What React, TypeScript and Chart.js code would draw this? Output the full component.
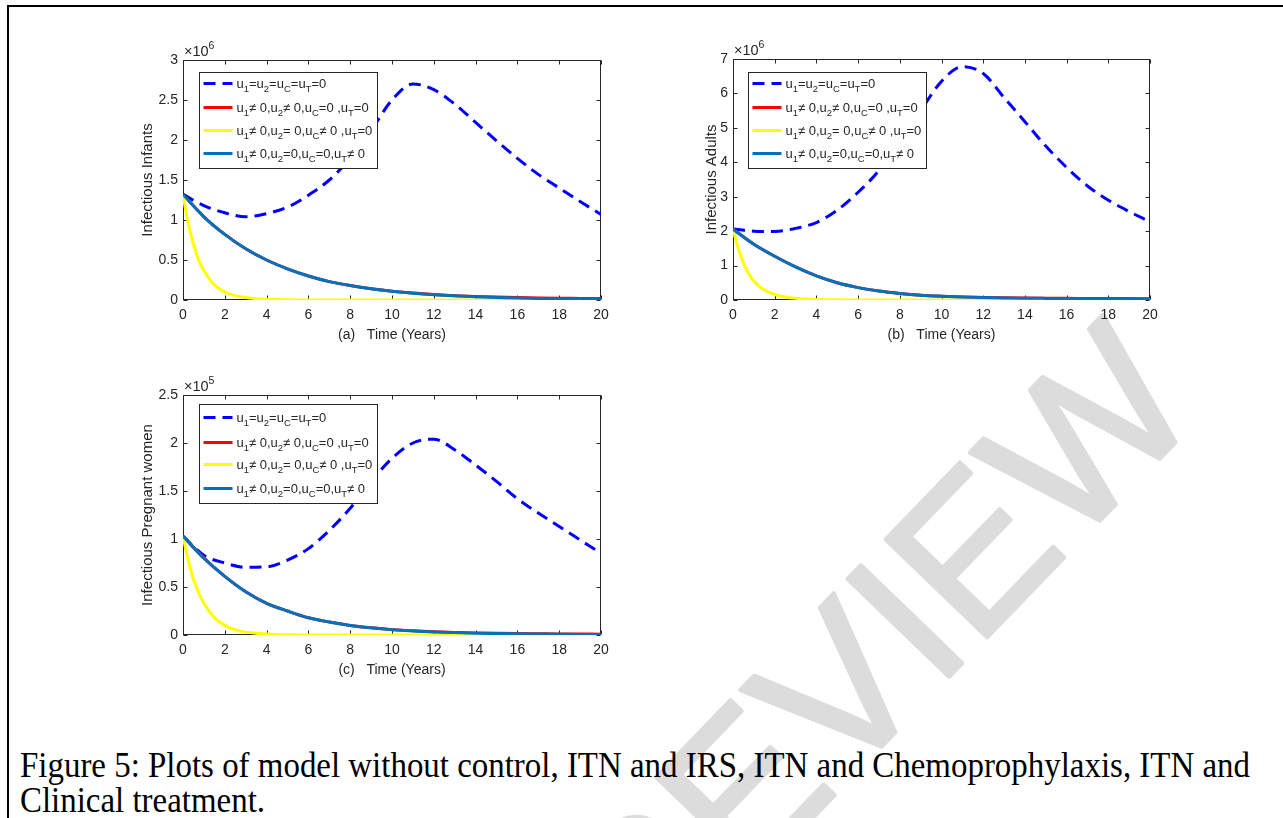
import React, { useEffect, useRef, useMemo } from "react";
import { Chart, registerables } from "chart.js";

Chart.register(...registerables);

// ---------------- data ----------------
const years = [0, 1, 2, 3, 4, 5, 6, 7, 8, 9, 10, 11, 12, 13, 14, 15, 16, 17, 18, 19, 20];
const fastYears = [0, 0.25, 0.5, 0.75, 1, 1.5, 2, 2.5, 3, 3.5, 4, 5, 6, 8, 10, 12, 14, 16, 18, 20];

// (a) Infectious Infants, x10^6
const infantsNoControl = [1.32, 1.18, 1.09, 1.04, 1.08, 1.16, 1.31, 1.5, 1.77, 2.12, 2.5, 2.7, 2.63, 2.45, 2.22, 1.99, 1.77, 1.57, 1.4, 1.23, 1.07];
const infantsItnIrs = [1.32, 1.04, 0.82, 0.64, 0.5, 0.39, 0.3, 0.23, 0.18, 0.14, 0.11, 0.086, 0.068, 0.054, 0.044, 0.036, 0.03, 0.025, 0.022, 0.02, 0.018];
const infantsItnChemo = [1.31, 0.96, 0.7, 0.5, 0.37, 0.19, 0.1, 0.055, 0.03, 0.017, 0.01, 0.003, 0.001, 0, 0, 0, 0, 0, 0, 0];
const infantsItnTreat = [1.32, 1.04, 0.82, 0.64, 0.5, 0.39, 0.3, 0.23, 0.18, 0.14, 0.11, 0.085, 0.066, 0.052, 0.041, 0.032, 0.025, 0.02, 0.016, 0.013, 0.011];

// (b) Infectious Adults, x10^6
const adultsNoControl = [2.06, 2.0, 1.99, 2.08, 2.25, 2.61, 3.13, 3.76, 4.6, 5.5, 6.35, 6.78, 6.58, 5.88, 5.18, 4.47, 3.85, 3.31, 2.9, 2.57, 2.27];
const adultsItnIrs = [2.06, 1.62, 1.27, 0.96, 0.7, 0.5, 0.36, 0.26, 0.19, 0.14, 0.11, 0.09, 0.075, 0.065, 0.058, 0.052, 0.048, 0.045, 0.042, 0.04, 0.038];
const adultsItnChemo = [2.06, 1.5, 1.08, 0.77, 0.55, 0.29, 0.16, 0.09, 0.05, 0.028, 0.016, 0.006, 0.002, 0.001, 0, 0, 0, 0, 0, 0];
const adultsItnTreat = [2.06, 1.62, 1.27, 0.96, 0.7, 0.5, 0.36, 0.26, 0.19, 0.14, 0.11, 0.088, 0.072, 0.061, 0.053, 0.047, 0.042, 0.038, 0.035, 0.033, 0.031];

// (c) Infectious Pregnant women, x10^5
const pregnantNoControl = [1.03, 0.83, 0.75, 0.705, 0.71, 0.78, 0.9, 1.09, 1.32, 1.6, 1.84, 2.0, 2.04, 1.93, 1.77, 1.6, 1.42, 1.27, 1.13, 0.99, 0.85];
const pregnantItnIrs = [1.03, 0.8, 0.61, 0.45, 0.33, 0.25, 0.18, 0.135, 0.1, 0.075, 0.056, 0.043, 0.034, 0.027, 0.022, 0.018, 0.015, 0.013, 0.011, 0.01, 0.009];
const pregnantItnChemo = [1.03, 0.78, 0.58, 0.44, 0.33, 0.18, 0.1, 0.055, 0.03, 0.017, 0.01, 0.003, 0.001, 0, 0, 0, 0, 0, 0, 0];
const pregnantItnTreat = [1.03, 0.8, 0.61, 0.45, 0.33, 0.25, 0.18, 0.135, 0.1, 0.075, 0.055, 0.042, 0.032, 0.025, 0.019, 0.015, 0.012, 0.01, 0.008, 0.006, 0.005];

const legendLabels = [
  "u_1=u_2=u_C=u_T=0",
  "u_1≠ 0,u_2≠ 0,u_C=0 ,u_T=0",
  "u_1≠ 0,u_2= 0,u_C≠ 0 ,u_T=0",
  "u_1≠ 0,u_2=0,u_C=0,u_T≠ 0",
];
const xTicksStep = 2;
const captionLine1 = "Figure 5: Plots of model without control, ITN and IRS, ITN and Chemoprophylaxis, ITN and";
const captionLine2 = "Clinical treatment.";
const watermarkText = "PEER REVIEW";

// ---------------- styles ----------------
const FONT = "'Liberation Sans', Arial, Helvetica, sans-serif";
const SERIF = "'Liberation Serif', 'Times New Roman', serif";
const AX = "#262626";
const seriesStyles = [
  { color: "#0000FF", dash: [12, 7], width: 3, order: 3 },
  { color: "#FF0000", dash: [], width: 3, order: 2 },
  { color: "#FFFF00", dash: [], width: 3, order: 1 },
  { color: "#0072BD", dash: [], width: 3, order: 0 },
];

type PanelProps = {
  plot: { left: number; top: number; right: number; bottom: number };
  yMax: number;
  yStep: number;
  exponent: string;
  yTitle: string;
  xTitle: string;
  yTitleGap: number;
  xs: number[][];
  ys: number[][];
  legendAt: { dx: number; dy: number; w: number; h: number; rows: number[] };
};

function drawRich(ctx: CanvasRenderingContext2D, text: string, x: number, y: number) {
  let cx = x;
  let run = "";
  const flush = () => {
    if (!run) return;
    ctx.font = `13px ${FONT}`;
    ctx.fillText(run, cx, y);
    cx += ctx.measureText(run).width;
    run = "";
  };
  for (let i = 0; i < text.length; i++) {
    const ch = text[i];
    if (ch === "_" && i + 1 < text.length) {
      flush();
      const s = text[i + 1];
      ctx.font = `9.5px ${FONT}`;
      ctx.fillText(s, cx, y + 3.5);
      cx += ctx.measureText(s).width;
      i++;
    } else {
      run += ch;
    }
  }
  flush();
}

function Panel(props: PanelProps) {
  const ref = useRef<HTMLCanvasElement | null>(null);
  const { plot } = props;
  const padL = 63, padT = 20, padR = 19, padB = 50;
  const w = plot.right - plot.left + padL + padR;
  const h = plot.bottom - plot.top + padT + padB;

  useEffect(() => {
    if (!ref.current) return;
    const axesPlugin = {
      id: "matlabAxes",
      beforeDraw(chart: any) {
        const { ctx, chartArea: a } = chart;
        ctx.save();
        ctx.fillStyle = "#ffffff";
        ctx.fillRect(a.left, a.top, a.right - a.left, a.bottom - a.top);
        ctx.restore();
      },
      beforeDatasetsDraw(chart: any) {
        const { ctx, chartArea: a, scales } = chart;
        const L = Math.round(a.left) + 0.5, R = Math.round(a.right) - 0.5;
        const T = Math.round(a.top) + 0.5, B = Math.round(a.bottom) - 0.5;
        ctx.save();
        ctx.strokeStyle = AX;
        ctx.lineWidth = 1;
        ctx.strokeRect(L, T, R - L, B - T);
        ctx.beginPath();
        const tl = 4;
        scales.x.ticks.forEach((t: any) => {
          const px = Math.round(scales.x.getPixelForValue(t.value)) + 0.5;
          ctx.moveTo(px, B); ctx.lineTo(px, B - tl);
          ctx.moveTo(px, T); ctx.lineTo(px, T + tl);
        });
        scales.y.ticks.forEach((t: any) => {
          const py = Math.round(scales.y.getPixelForValue(t.value)) + 0.5;
          ctx.moveTo(L, py); ctx.lineTo(L + tl, py);
          ctx.moveTo(R, py); ctx.lineTo(R - tl, py);
        });
        ctx.stroke();
        ctx.restore();
      },
      afterDatasetsDraw(chart: any) {
        const { ctx, chartArea: a } = chart;
        const lg = props.legendAt;
        ctx.save();
        const bx = Math.round(a.left + lg.dx) + 0.5, by = Math.round(a.top + lg.dy) + 0.5;
        ctx.fillStyle = "#ffffff";
        ctx.fillRect(bx, by, lg.w, lg.h);
        ctx.strokeStyle = AX;
        ctx.lineWidth = 1;
        ctx.strokeRect(bx, by, lg.w, lg.h);
        legendLabels.forEach((label, i) => {
          const st = seriesStyles[i];
          const ly = by + lg.rows[i];
          ctx.beginPath();
          ctx.strokeStyle = st.color;
          ctx.lineWidth = st.width;
          ctx.setLineDash(st.dash);
          ctx.moveTo(bx + 4, ly);
          ctx.lineTo(bx + 33, ly);
          ctx.stroke();
          ctx.setLineDash([]);
          ctx.fillStyle = AX;
          ctx.textBaseline = "alphabetic";
          ctx.textAlign = "left";
          drawRich(ctx, label, bx + 37, ly + 4.5);
        });
        ctx.fillStyle = AX;
        ctx.font = `14.5px ${FONT}`;
        ctx.textBaseline = "alphabetic";
        ctx.textAlign = "left";
        const ex = a.left + 1, ey = a.top - 4;
        ctx.fillText("×10", ex, ey);
        const ew = ctx.measureText("×10").width;
        ctx.font = `10.5px ${FONT}`;
        ctx.fillText(props.exponent, ex + ew, ey - 7);
        ctx.restore();
      },
    };

    const datasets = props.ys.map((vals, i) => ({
      label: legendLabels[i],
      data: props.xs[i].map((x, j) => ({ x, y: vals[j] })),
      borderColor: seriesStyles[i].color,
      borderWidth: seriesStyles[i].width,
      borderDash: seriesStyles[i].dash,
      borderCapStyle: "butt" as const,
      pointRadius: 0,
      cubicInterpolationMode: "monotone" as const,
      fill: false,
      order: seriesStyles[i].order,
    }));

    const chart = new Chart(ref.current, {
      type: "line",
      data: { datasets },
      options: {
        responsive: false,
        maintainAspectRatio: false,
        animation: false,
        events: [],
        layout: { padding: { top: padT, right: padR, left: 0, bottom: 0 } },
        plugins: { legend: { display: false }, tooltip: { enabled: false } },
        scales: {
          x: {
            type: "linear",
            min: 0,
            max: 20,
            afterFit: (s: any) => { s.height = padB; },
            grid: { display: false, drawTicks: false },
            border: { display: false },
            ticks: {
              stepSize: xTicksStep,
              color: AX,
              font: { family: FONT, size: 14 },
              padding: 7,
              maxRotation: 0,
              autoSkip: false,
              callback: (v: any) => String(Number(v)),
            },
            title: {
              display: true,
              text: props.xTitle,
              color: AX,
              font: { family: FONT, size: 14 },
              padding: { top: 0, bottom: 6.6 },
            },
          },
          y: {
            type: "linear",
            min: 0,
            max: props.yMax,
            afterFit: (s: any) => { s.width = padL; },
            grid: { display: false, drawTicks: false },
            border: { display: false },
            ticks: {
              stepSize: props.yStep,
              color: AX,
              font: { family: FONT, size: 14 },
              padding: 5,
              autoSkip: false,
              callback: (v: any) => String(Number(v)),
            },
            title: {
              display: true,
              text: props.yTitle,
              color: AX,
              font: { family: FONT, size: 15 },
              padding: { top: padL - props.yTitleGap - 9, bottom: 0 },
            },
          },
        },
      },
      plugins: [axesPlugin],
    } as any);
    return () => chart.destroy();
  }, []);

  return (
    <canvas
      ref={ref}
      width={w}
      height={h}
      style={{ position: "absolute", left: plot.left - padL, top: plot.top - padT, width: w, height: h }}
    />
  );
}

export default function App() {
  const fourXs = [years, years, fastYears, years];
  const captionScale = useMemo(() => {
    const c = document.createElement("canvas").getContext("2d");
    if (!c) return { l1: 1230, l2: 265 };
    c.font = `35px ${SERIF}`;
    const w1 = c.measureText(captionLine1).width;
    const w2 = c.measureText(captionLine2).width;
    const s = 1230 / w1;
    return { l1: 1230, l2: w2 * s };
  }, []);
  return (
    <div style={{ position: "absolute", left: 0, top: 0, width: 1283, height: 818, overflow: "hidden", background: "#ffffff" }}>
      <svg width={1283} height={818} style={{ position: "absolute", left: 0, top: 0 }}>
        <text
          x={0}
          y={0}
          transform="translate(1205,412) rotate(-46)"
          textAnchor="end"
          fontFamily={FONT}
          fontSize={205}
          fill="#dcdcdc"
          stroke="#dcdcdc"
          strokeWidth={4}
          strokeLinejoin="round"
        >
          {watermarkText}
        </text>
        <line x1={7} y1={6} x2={1283} y2={6} stroke="#000" strokeWidth={2} />
        <line x1={8} y1={5} x2={8} y2={818} stroke="#000" strokeWidth={2} />
        <text x={20} y={777} fontFamily={SERIF} fontSize={35} textLength={captionScale.l1} lengthAdjust="spacingAndGlyphs" fill="#000">
          {captionLine1}
        </text>
        <text x={20} y={812} fontFamily={SERIF} fontSize={35} textLength={captionScale.l2} lengthAdjust="spacingAndGlyphs" fill="#000">
          {captionLine2}
        </text>
      </svg>
      <Panel
        plot={{ left: 183, top: 60, right: 601, bottom: 300 }}
        yMax={3}
        yStep={0.5}
        exponent="6"
        yTitle="Infectious Infants"
        xTitle="(a)   Time (Years)"
        yTitleGap={35}
        xs={fourXs}
        ys={[infantsNoControl, infantsItnIrs, infantsItnChemo, infantsItnTreat]}
        legendAt={{ dx: 16, dy: 12, w: 178, h: 96, rows: [11, 35, 58, 81] }}
      />
      <Panel
        plot={{ left: 733, top: 59, right: 1150, bottom: 300 }}
        yMax={7}
        yStep={1}
        exponent="6"
        yTitle="Infectious Adults"
        xTitle="(b)   Time (Years)"
        yTitleGap={21}
        xs={fourXs}
        ys={[adultsNoControl, adultsItnIrs, adultsItnChemo, adultsItnTreat]}
        legendAt={{ dx: 15, dy: 13, w: 178, h: 96, rows: [11, 35, 58, 81] }}
      />
      <Panel
        plot={{ left: 183, top: 395, right: 601, bottom: 635 }}
        yMax={2.5}
        yStep={0.5}
        exponent="5"
        yTitle="Infectious Pregnant women"
        xTitle="(c)   Time (Years)"
        yTitleGap={35}
        xs={fourXs}
        ys={[pregnantNoControl, pregnantItnIrs, pregnantItnChemo, pregnantItnTreat]}
        legendAt={{ dx: 16, dy: 9, w: 178, h: 99, rows: [13, 38, 60, 84] }}
      />
    </div>
  );
}
